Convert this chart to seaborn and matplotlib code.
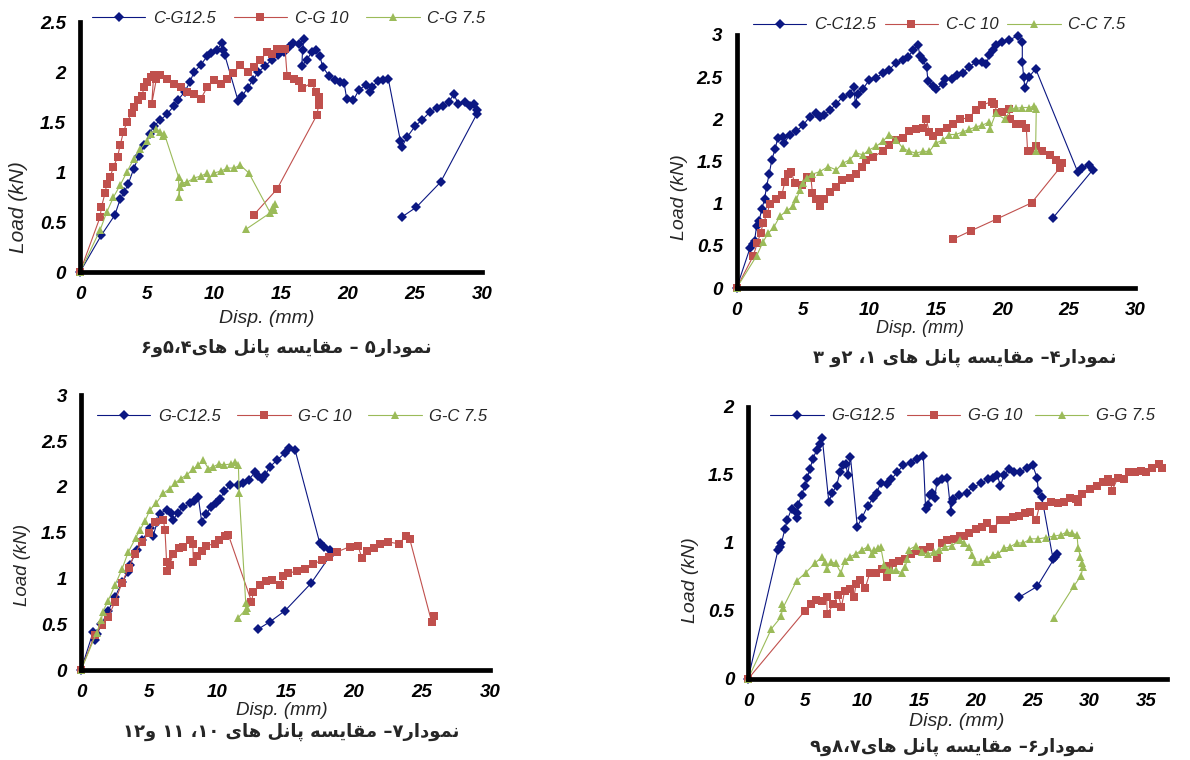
import re
import matplotlib
matplotlib.use("Agg")
import matplotlib.pyplot as plt
import seaborn as sns

sns.set_theme(style="white")
plt.rcParams['font.family'] = ['Liberation Sans', 'DejaVu Sans']

# ---- data (disp mm, load kN) ----
cg125 = [(0,0),(1.6,0.37),(2.6,0.57),(3.0,0.73),(3.3,0.80),(3.6,0.88),(4.0,1.03),(4.4,1.16),(4.8,1.27),
         (5.2,1.38),(5.5,1.46),(6.0,1.52),(6.5,1.58),(7.0,1.66),(7.3,1.72),(7.8,1.80),(8.2,1.90),(8.5,2.00),
         (9.0,2.07),(9.5,2.16),(9.8,2.19),(10.2,2.22),(10.6,2.29),(10.7,2.22),(10.8,2.17),(11.8,1.71),
         (12.1,1.76),(12.5,1.84),(12.9,1.92),(13.3,2.00),(13.8,2.06),(14.3,2.12),(14.8,2.17),(15.2,2.20),
         (15.6,2.25),(15.9,2.29),(16.3,2.28),(16.7,2.33),(16.6,2.22),(16.55,2.06),(16.9,2.12),(17.3,2.20),
         (17.6,2.22),(17.9,2.16),(18.1,2.05),(18.6,1.96),(19.0,1.92),(19.4,1.90),(19.7,1.89),(19.9,1.73),
         (20.4,1.72),(20.8,1.82),(21.3,1.87),(21.6,1.80),(21.8,1.85),(22.2,1.91),(22.6,1.92),(23.0,1.93),
         (23.9,1.31),(24.0,1.25),(24.4,1.35),(25.0,1.46),(25.5,1.52),(26.1,1.60),(26.6,1.64),(27.1,1.66),
         (27.5,1.70),(27.9,1.78),(28.2,1.68),(28.7,1.70),(29.1,1.66),(29.4,1.68),(29.6,1.62),(29.6,1.58),
         (26.9,0.90),(25.1,0.65),(24.0,0.55)]
cg10 = [(0,0),(1.5,0.55),(1.6,0.65),(1.87,0.79),(2.0,0.88),(2.24,0.95),(2.5,1.05),(2.8,1.15),(3.0,1.27),
        (3.24,1.40),(3.5,1.50),(3.86,1.59),(4.0,1.65),(4.3,1.72),(4.6,1.76),(4.8,1.85),(5.0,1.90),(5.3,1.95),
        (5.5,1.97),(5.35,1.68),(5.7,1.93),(6.0,1.97),(6.5,1.93),(7.0,1.88),(7.5,1.85),(8.0,1.80),(8.5,1.78),
        (9.0,1.73),(9.5,1.85),(10.0,1.92),(10.5,1.88),(11.0,1.93),(11.45,1.99),(11.95,2.07),(12.5,2.00),
        (13.0,2.05),(13.45,2.12),(13.95,2.20),(14.3,2.18),(14.7,2.23),(15.3,2.23),(15.45,1.96),(16.0,1.93),
        (16.3,1.91),(16.55,1.84),(17.3,1.89),(17.6,1.80),(17.8,1.75),(17.8,1.67),(17.67,1.57),(14.7,0.83),
        (12.95,0.57)]
cg75 = [(0,0),(1.5,0.42),(2.0,0.60),(2.5,0.75),(3.0,0.87),(3.5,1.00),(4.0,1.13),(4.5,1.23),(5.0,1.31),
        (5.3,1.38),(5.7,1.43),(6.0,1.40),(6.2,1.36),(6.3,1.38),(7.35,0.95),(7.4,0.75),(7.45,0.85),(7.6,0.89),
        (8.0,0.90),(8.5,0.94),(9.0,0.96),(9.5,0.99),(9.6,0.93),(10.0,0.99),(10.5,1.01),(11.0,1.04),
        (11.5,1.04),(11.95,1.07),(12.6,0.99),(14.2,0.59),(14.4,0.65),(14.55,0.68),(14.5,0.62),(12.4,0.43)]

cc125 = [(0,0),(1.0,0.47),(1.2,0.52),(1.35,0.56),(1.5,0.73),(1.7,0.80),(1.9,0.94),(2.1,1.05),(2.25,1.20),
         (2.45,1.35),(2.65,1.52),(2.9,1.65),(3.1,1.78),(3.5,1.79),(3.6,1.72),(4.0,1.82),(4.5,1.86),(5.0,1.93),
         (5.5,2.03),(6.0,2.07),(6.3,2.03),(6.6,2.05),(7.0,2.11),(7.5,2.18),(8.0,2.27),(8.5,2.30),(8.8,2.38),
         (8.95,2.18),(9.1,2.30),(9.5,2.36),(10.0,2.47),(10.5,2.49),(11.0,2.55),(11.5,2.59),(12.0,2.67),
         (12.5,2.70),(12.9,2.74),(13.3,2.82),(13.65,2.88),(13.8,2.75),(14.0,2.70),(14.3,2.62),(14.4,2.45),
         (14.8,2.40),(15.0,2.36),(15.5,2.42),(15.65,2.48),(16.2,2.48),(16.6,2.52),(17.0,2.55),(17.5,2.62),
         (18.0,2.68),(18.5,2.68),(18.8,2.65),(19.0,2.76),(19.3,2.82),(19.5,2.88),(20.0,2.92),(20.5,2.94),
         (21.16,2.99),(21.5,2.92),(21.5,2.68),(21.6,2.50),(21.7,2.37),(22.0,2.50),(22.5,2.60),(25.66,1.38),
         (26.0,1.42),(26.5,1.46),(26.8,1.40),(23.8,0.83)]
cc10 = [(0,0),(1.25,0.38),(1.55,0.53),(1.8,0.65),(2.0,0.77),(2.3,0.88),(2.5,1.00),(3.0,1.05),(3.4,1.10),
        (3.63,1.26),(3.9,1.35),(4.13,1.37),(4.38,1.24),(4.9,1.22),(5.26,1.32),(5.6,1.30),(5.7,1.13),(6.0,1.05),
        (6.3,0.97),(6.6,1.05),(7.0,1.14),(7.5,1.20),(7.9,1.28),(8.5,1.30),(9.0,1.35),(9.4,1.43),(9.77,1.52),
        (10.3,1.55),(11.0,1.63),(11.5,1.70),(12.0,1.75),(12.5,1.78),(13.0,1.86),(13.5,1.88),(14.0,1.90),
        (14.27,2.00),(14.5,1.85),(14.8,1.80),(15.2,1.85),(15.8,1.90),(16.3,1.95),(16.8,2.00),(17.5,2.02),
        (18.0,2.11),(18.5,2.17),(19.2,2.21),(19.4,2.18),(19.6,2.08),(20.0,2.09),(20.5,2.12),(20.6,2.00),
        (21.0,1.95),(21.5,1.95),(21.8,1.90),(21.9,1.62),(22.1,1.62),(22.5,1.68),(23.0,1.62),(23.6,1.58),
        (24.0,1.52),(24.5,1.48),(24.3,1.42),(22.2,1.01),(19.6,0.82),(17.65,0.68),(16.3,0.58)]
cc75 = [(0,0),(1.5,0.38),(2.0,0.55),(2.38,0.65),(2.8,0.72),(3.25,0.85),(3.8,0.92),(4.26,0.97),(4.5,1.05),
        (4.76,1.16),(5.0,1.25),(5.26,1.30),(5.7,1.35),(6.26,1.38),(6.9,1.44),(7.5,1.40),(8.0,1.48),(8.5,1.52),
        (9.0,1.60),(9.5,1.58),(10.0,1.64),(10.5,1.68),(11.0,1.74),(11.5,1.82),(12.0,1.76),(12.5,1.66),
        (13.0,1.62),(13.5,1.60),(14.0,1.62),(14.5,1.62),(15.0,1.72),(15.5,1.75),(16.0,1.82),(16.5,1.82),
        (17.0,1.85),(17.5,1.88),(18.0,1.91),(18.5,1.93),(19.0,1.97),(19.05,1.88),(19.5,2.07),(20.2,2.00),
        (20.66,2.13),(21.0,2.13),(21.5,2.14),(22.04,2.14),(22.4,2.16),(22.55,2.12),(22.5,1.62)]

gc125 = [(0,0),(0.9,0.42),(1.0,0.33),(1.2,0.40),(1.5,0.50),(2.0,0.65),(2.5,0.80),(3.0,0.96),(3.47,1.07),
         (3.6,1.15),(4.08,1.31),(4.5,1.42),(5.06,1.55),(5.3,1.47),(5.6,1.62),(5.8,1.71),(6.3,1.75),(6.6,1.72),
         (6.77,1.64),(7.1,1.72),(7.5,1.78),(8.0,1.82),(8.3,1.85),(8.6,1.89),(8.85,1.62),(9.2,1.70),(9.5,1.78),
         (9.9,1.82),(10.2,1.87),(10.5,1.95),(10.93,2.02),(11.5,2.02),(11.9,2.04),(12.3,2.08),(12.76,2.16),
         (13.0,2.12),(13.25,2.09),(13.5,2.13),(13.86,2.22),(14.35,2.29),(14.96,2.37),(15.28,2.42),(15.7,2.40),
         (17.5,1.39),(17.85,1.35),(18.26,1.31),(18.4,1.28),(16.87,0.95),(14.96,0.65),(13.86,0.53),(13.0,0.45)]
gc10 = [(0,0),(1.0,0.38),(1.52,0.49),(2.0,0.58),(2.5,0.75),(3.0,0.95),(3.5,1.12),(3.96,1.27),(4.45,1.40),
        (5.0,1.50),(5.43,1.62),(6.04,1.64),(6.16,1.53),(6.28,1.18),(6.3,1.08),(6.5,1.15),(6.77,1.27),(7.2,1.33),
        (7.5,1.35),(8.0,1.42),(8.2,1.38),(8.24,1.18),(8.5,1.25),(8.9,1.30),(9.2,1.36),(9.8,1.38),(10.1,1.42),
        (10.56,1.47),(10.8,1.48),(12.5,0.75),(12.64,0.85),(13.1,0.93),(13.6,0.97),(13.98,0.99),(14.6,0.93),
        (14.8,1.03),(15.2,1.06),(15.8,1.08),(16.4,1.10),(17.0,1.16),(17.7,1.20),(18.2,1.24),(18.75,1.29),
        (19.73,1.35),(20.3,1.36),(20.6,1.22),(21.0,1.30),(21.5,1.33),(21.9,1.38),(22.5,1.40),(23.3,1.38),
        (23.8,1.46),(24.1,1.43),(25.7,0.53),(25.85,0.59)]
gc75 = [(0,0),(1.15,0.41),(1.5,0.55),(1.6,0.64),(2.0,0.76),(2.5,0.93),(3.0,1.10),(3.47,1.29),(4.0,1.44),
        (4.33,1.53),(4.7,1.63),(5.06,1.75),(5.5,1.82),(6.04,1.93),(6.5,1.98),(6.9,2.04),(7.3,2.09),(7.75,2.13),
        (8.2,2.19),(8.6,2.24),(8.97,2.29),(9.34,2.20),(9.7,2.22),(10.1,2.25),(10.5,2.24),(11.0,2.25),
        (11.3,2.27),(11.54,2.24),(11.6,1.93),(12.08,0.73),(12.1,0.65),(12.2,0.68),(11.5,0.57)]

gg125 = [(0,0),(2.64,0.95),(2.8,0.97),(2.94,1.00),(3.23,1.10),(3.45,1.17),(3.82,1.25),(4.26,1.22),(4.28,1.18),
         (4.4,1.28),(4.7,1.35),(4.99,1.42),(5.2,1.48),(5.43,1.54),(5.7,1.62),(6.02,1.68),(6.3,1.73),(6.52,1.77),
         (7.1,1.30),(7.4,1.37),(7.78,1.42),(8.07,1.52),(8.3,1.57),(8.6,1.58),(8.75,1.50),(9.0,1.63),(9.6,1.12),
         (9.98,1.18),(10.5,1.27),(11.0,1.33),(11.3,1.37),(11.66,1.44),(12.2,1.43),(12.6,1.47),(13.1,1.52),
         (13.65,1.57),(14.3,1.59),(14.83,1.62),(15.4,1.64),(15.6,1.25),(15.8,1.28),(16.0,1.35),(16.2,1.37),
         (16.4,1.33),(16.6,1.45),(17.0,1.47),(17.5,1.48),(17.82,1.23),(17.9,1.30),(18.0,1.32),(18.5,1.35),
         (19.2,1.37),(19.8,1.41),(20.5,1.44),(21.1,1.47),(21.5,1.48),(21.9,1.50),(22.17,1.42),(22.5,1.50),
         (22.9,1.54),(23.4,1.52),(23.9,1.52),(24.5,1.55),(25.0,1.57),(25.4,1.48),(25.5,1.38),(25.8,1.34),
         (26.8,0.88),(27.0,0.90),(27.15,0.92),(25.4,0.68),(23.8,0.60)]
gg10 = [(0,0),(4.99,0.50),(5.5,0.55),(6.0,0.58),(6.5,0.57),(6.9,0.60),(6.96,0.48),(7.5,0.55),(7.93,0.62),
        (8.2,0.53),(8.5,0.65),(8.95,0.66),(9.3,0.60),(9.5,0.70),(9.84,0.73),(10.3,0.67),(10.7,0.78),(11.2,0.78),
        (11.74,0.81),(12.2,0.75),(12.4,0.83),(12.77,0.85),(13.3,0.87),(13.8,0.88),(14.3,0.92),(14.83,0.94),
        (15.4,0.95),(16.0,0.97),(16.6,0.89),(17.0,1.00),(17.5,1.02),(18.06,1.03),(18.6,1.05),(19.0,1.05),
        (19.4,1.07),(20.0,1.10),(20.55,1.12),(21.0,1.15),(21.5,1.10),(22.17,1.17),(22.7,1.17),(23.3,1.19),
        (23.8,1.20),(24.3,1.22),(24.8,1.23),(25.3,1.17),(25.6,1.27),(26.0,1.27),(26.6,1.30),(27.2,1.29),
        (27.8,1.30),(28.3,1.33),(28.8,1.32),(29.0,1.30),(29.36,1.36),(30.0,1.40),(30.7,1.42),(31.2,1.45),
        (31.6,1.47),(31.9,1.45),(31.95,1.38),(32.5,1.48),(33.0,1.47),(33.5,1.52),(34.0,1.52),(34.5,1.53),
        (35.0,1.52),(35.5,1.55),(36.1,1.58),(36.4,1.55)]
gg75 = [(0,0),(2.06,0.37),(2.94,0.46),(3.02,0.55),(3.05,0.52),(4.26,0.72),(5.05,0.78),(5.87,0.85),(6.52,0.90),
        (6.8,0.86),(6.9,0.81),(7.3,0.86),(7.7,0.85),(8.16,0.78),(8.5,0.87),(9.0,0.90),(9.5,0.92),(10.0,0.95),
        (10.5,0.97),(10.9,0.92),(11.1,0.95),(11.4,0.96),(11.66,0.97),(11.95,0.84),(12.3,0.80),(12.6,0.80),
        (13.0,0.80),(13.5,0.78),(13.8,0.82),(14.0,0.88),(14.1,0.95),(14.8,0.98),(15.3,0.93),(15.8,0.92),
        (16.3,0.93),(16.8,0.95),(17.3,0.97),(17.9,0.98),(18.6,1.02),(19.0,1.00),(19.4,0.97),(19.7,0.91),
        (19.96,0.86),(20.5,0.86),(21.0,0.88),(21.5,0.91),(22.0,0.92),(22.46,0.96),(23.0,0.97),(23.6,1.00),
        (24.2,1.00),(24.8,1.03),(25.5,1.03),(26.2,1.04),(26.9,1.05),(27.5,1.06),(28.0,1.08),(28.5,1.07),
        (28.9,1.06),(29.0,0.96),(29.2,0.90),(29.36,0.85),(29.4,0.82),(29.27,0.76),(28.6,0.68),(26.86,0.45)]

labels_cg = ["C-G12.5", "C-G 10", "C-G 7.5"]
labels_cc = ["C-C12.5", "C-C 10", "C-C 7.5"]
labels_gc = ["G-C12.5", "G-C 10", "G-C 7.5"]
labels_gg = ["G-G12.5", "G-G 10", "G-G 7.5"]

captions = ["نمودار۵ – مقایسه پانل های۴،۵و۶",
            "نمودار۴– مقایسه پانل های ۱، ۲و ۳",
            "نمودار۷– مقایسه پانل های ۱۰، ۱۱ و۱۲",
            "نمودار۶– مقایسه پانل های۷،۸و۹"]

colors = ["#0B1782", "#C0504D", "#9BBB59"]
markers = ["D", "s", "^"]
msizes = [4.8, 5.6, 6.0]

# simple persian shaping (matplotlib does no RTL / joining)
FORMS = {
    'ا': ('\uFE8D', '\uFE8E', None, None),
    'د': ('\uFEA9', '\uFEAA', None, None),
    'ر': ('\uFEAD', '\uFEAE', None, None),
    'و': ('\uFEED', '\uFEEE', None, None),
    'ن': ('\uFEE5', '\uFEE6', '\uFEE7', '\uFEE8'),
    'م': ('\uFEE1', '\uFEE2', '\uFEE3', '\uFEE4'),
    'ق': ('\uFED5', '\uFED6', '\uFED7', '\uFED8'),
    'س': ('\uFEB1', '\uFEB2', '\uFEB3', '\uFEB4'),
    'ه': ('\uFEE9', '\uFEEA', '\uFEEB', '\uFEEC'),
    'ل': ('\uFEDD', '\uFEDE', '\uFEDF', '\uFEE0'),
    'پ': ('\uFB56', '\uFB57', '\uFB58', '\uFB59'),
    'ی': ('\uFBFC', '\uFBFD', '\uFBFE', '\uFBFF'),
}


def shape_fa(text):
    out = []
    for i, ch in enumerate(text):
        if ch not in FORMS:
            out.append(ch)
            continue
        iso, fin, ini, med = FORMS[ch]
        prev = text[i - 1] if i > 0 else ''
        nxt = text[i + 1] if i + 1 < len(text) else ''
        jp = prev in FORMS and FORMS[prev][2] is not None
        jn = ini is not None and nxt in FORMS
        if jp and jn:
            out.append(med)
        elif jp:
            out.append(fin)
        elif jn:
            out.append(ini)
        else:
            out.append(iso)
    s = ''.join(out)[::-1]
    return re.sub('[۰-۹]+', lambda m: m.group(0)[::-1], s)


def draw_panel(ax, series, labels, xmax, xticks, ymax, yticks, leg_xy, colsp, xl, yl, fs_x, fs_y):
    for pts, lab, c, m, ms in zip(series, labels, colors, markers, msizes):
        xs = [p[0] for p in pts]
        ys = [p[1] for p in pts]
        sns.lineplot(x=xs, y=ys, ax=ax, sort=False, estimator=None, color=c, lw=0.8,
                     marker=m, markersize=ms, markeredgewidth=0, label=lab, clip_on=False)
    ax.set_xlim(0, xmax)
    ax.set_ylim(0, ymax)
    ax.set_xticks(xticks)
    ax.set_yticks(yticks)
    ax.set_xticklabels([f"{v:g}" for v in xticks], fontweight="bold", fontstyle="italic", fontsize=13.5)
    ax.set_yticklabels([f"{v:g}" for v in yticks], fontweight="bold", fontstyle="italic", fontsize=13.5)
    ax.tick_params(length=0, pad=10, colors="black")
    for sp in ["top", "right"]:
        ax.spines[sp].set_visible(False)
    for sp in ["left", "bottom"]:
        ax.spines[sp].set_linewidth(3.4)
        ax.spines[sp].set_color("black")
    ax.set_xlabel("")
    ax.set_ylabel("")
    ax.text(xl[0], xl[1], "Disp. (mm)", transform=ax.transAxes, ha="center", va="center",
            fontstyle="italic", fontsize=fs_x)
    ax.text(yl[0], yl[1], "Load (kN)", transform=ax.transAxes, ha="center", va="center",
            rotation=90, fontstyle="italic", fontsize=fs_y)
    leg = ax.legend(loc="center left", bbox_to_anchor=leg_xy, ncol=3, frameon=False,
                    handlelength=3.2, handletextpad=0.45, columnspacing=colsp,
                    borderaxespad=0, prop={"style": "italic", "size": 12})
    leg.set_zorder(5)


fig = plt.figure(figsize=(11.9, 7.6), dpi=100)
ax1 = fig.add_axes([0.0672, 0.642, 0.338, 0.329])
ax2 = fig.add_axes([0.619, 0.621, 0.335, 0.333])
ax3 = fig.add_axes([0.068, 0.118, 0.344, 0.362])
ax4 = fig.add_axes([0.6286, 0.1066, 0.352, 0.358])

ticks30 = [0, 5, 10, 15, 20, 25, 30]
draw_panel(ax1, [cg125, cg10, cg75], labels_cg, 30, ticks30, 2.5, [0, 0.5, 1, 1.5, 2, 2.5],
           (0.013, 1.016), 1.1, (0.465, -0.184), (-0.154, 0.26), 14, 15)
draw_panel(ax2, [cc125, cc10, cc75], labels_cc, 30, ticks30, 3, [0, 0.5, 1, 1.5, 2, 2.5, 3],
           (0.024, 1.04), 0.55, (0.459, -0.158), (-0.143, 0.36), 13, 14)
draw_panel(ax3, [gc125, gc10, gc75], labels_gc, 30, ticks30, 3, [0, 0.5, 1, 1.5, 2, 2.5, 3],
           (0.023, 0.924), 1.0, (0.491, -0.145), (-0.142, 0.382), 13.5, 13.5)
draw_panel(ax4, [gg125, gg10, gg75], labels_gg, 36.8, [0, 5, 10, 15, 20, 25, 30, 35], 2, [0, 0.5, 1, 1.5, 2],
           (0.037, 0.967), 0.75, (0.499, -0.158), (-0.138, 0.364), 14, 14)

cap_pos = [(0.241, 0.542), (0.811, 0.529), (0.245, 0.037), (0.80, 0.017)]
for (cx, cy), cap in zip(cap_pos, captions):
    fig.text(cx, cy, shape_fa(cap), ha="center", va="center", fontsize=13,
             fontweight="bold", family=["DejaVu Sans"])

fig.savefig("out.png", dpi=100)
